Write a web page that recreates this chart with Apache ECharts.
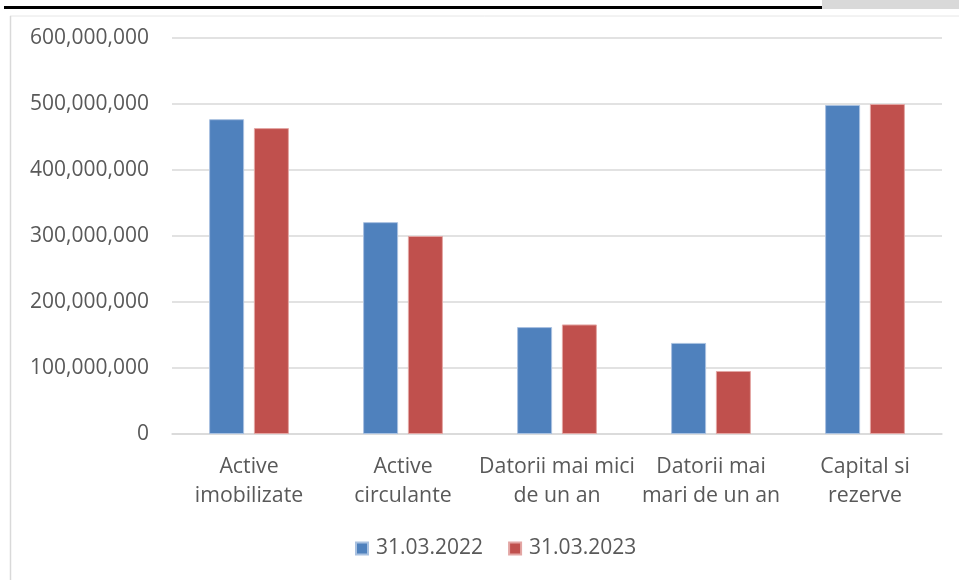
<!DOCTYPE html>
<html><head><meta charset="utf-8">
<script src="https://cdn.jsdelivr.net/npm/echarts@6/dist/echarts.min.js"></script>
<style>html,body{margin:0;padding:0;background:#fff}#c{width:959px;height:580px}</style>
</head><body><div id="c"></div>
<script>
const categories = ['Active\nimobilizate', 'Active\ncirculante', 'Datorii mai mici\nde un an', 'Datorii mai\nmari de un an', 'Capital si\nrezerve'];
const seriesNames = ['31.03.2022', '31.03.2023'];
const values2022 = [477000000, 321000000, 162000000, 138000000, 498500000];
const values2023 = [463500000, 300000000, 166000000, 95500000, 500000000];
const yTicks = { min: 0, max: 600000000, interval: 100000000 };

const chart = echarts.init(document.getElementById('c'), null, { renderer: 'canvas' });
const font = 'Open Sans';
chart.setOption({
  animation: false,
  backgroundColor: '#fff',
  graphic: [
    { type: 'rect', shape: { x: 822, y: 0, width: 137, height: 9 }, style: { fill: '#d9d9d9' } },
    { type: 'rect', shape: { x: 4, y: 6, width: 818, height: 3 }, style: { fill: '#000' } },
    { type: 'line', shape: { x1: 10, y1: 16, x2: 959, y2: 16 }, style: { stroke: '#e6e6e6', lineWidth: 1 } },
    { type: 'line', shape: { x1: 10.5, y1: 16, x2: 10.5, y2: 580 }, style: { stroke: '#d9d9d9', lineWidth: 1.5 } }
  ],
  grid: { left: 172, right: 17, top: 38, bottom: 146, containLabel: false },
  legend: {
    data: seriesNames,
    top: 533,
    left: 350,
    itemWidth: 12, itemHeight: 12, itemGap: 25,
    icon: 'rect',
    textStyle: { fontFamily: font, fontSize: 21, color: '#595959', padding: [0, 0, 0, 3] }
  },
  xAxis: {
    type: 'category',
    data: categories,
    axisLine: { lineStyle: { color: '#d9d9d9', width: 1.5 } },
    axisTick: { show: false },
    axisLabel: { fontFamily: font, fontSize: 21.3, color: '#595959', lineHeight: 29, margin: 18, interval: 0 }
  },
  yAxis: {
    type: 'value',
    min: yTicks.min, max: yTicks.max, interval: yTicks.interval,
    axisLine: { show: false },
    axisTick: { show: false },
    splitLine: { lineStyle: { color: '#d9d9d9', width: 1.5 } },
    axisLabel: {
      fontFamily: font, fontSize: 21, color: '#595959', margin: 23,
      formatter: v => v.toLocaleString('en-US')
    }
  },
  series: [
    { name: seriesNames[0], type: 'bar', data: values2022, barWidth: 35, barGap: '28%',
      itemStyle: { color: '#4f81bd', borderColor: '#a9c1e0', borderWidth: 1 } },
    { name: seriesNames[1], type: 'bar', data: values2023, barWidth: 35,
      itemStyle: { color: '#c0504d', borderColor: '#e3a6a4', borderWidth: 1 } }
  ]
});
</script></body></html>
